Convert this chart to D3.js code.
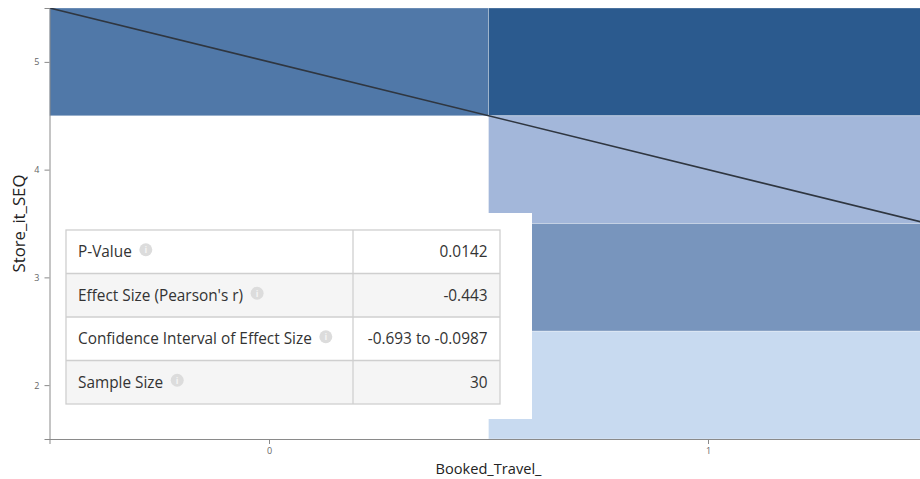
<!DOCTYPE html>
<html>
<head>
<meta charset="utf-8">
<script src="https://cdn.jsdelivr.net/npm/d3@7"></script>
<style>
  html, body { margin: 0; padding: 0; background: #fff; }
  svg { display: block; font-family: "Open Sans", "Noto Sans", sans-serif; }
</style>
</head>
<body>
<svg id="chart" width="920" height="479"></svg>
<script>
// Response counts per (Booked_Travel_, Store_it_SEQ) cell
const xCategories = [0, 1];
const yLevels = [2, 3, 4, 5];
const cellX = [0, 1, 1, 1, 1];
const cellY = [5, 5, 4, 3, 2];
const cellCount = [8, 10, 4, 6, 2];

// Fitted regression line: Store_it_SEQ = intercept + slope * Booked_Travel_
const fitIntercept = 5;
const fitSlope = -1;

// Statistics table
const statLabels = ["P-Value", "Effect Size (Pearson's r)", "Confidence Interval of Effect Size", "Sample Size"];
const statValues = ["0.0142", "-0.443", "-0.693 to -0.0987", "30"];

const svg = d3.select("#chart");
const W = 920, H = 479;
const plot = { left: 49.5, top: 8, bottom: 439, right: 927.5 };

const x = d3.scaleLinear().domain([-0.5, 1.5]).range([plot.left, plot.right]);
const y = d3.scaleLinear().domain([1.5, 5.5]).range([plot.bottom, plot.top]);

const color = d3.scaleLinear()
  .domain([2, 4, 6, 8, 10])
  .range(["#c8daf0", "#a3b7da", "#7895bd", "#5078a8", "#2b5a8e"]);

// Pick a font size so that a text node spans the wanted width
function fitSize(sel, width) {
  sel.attr("font-size", 20);
  const w = sel.node().getComputedTextLength();
  const size = 20 * width / w;
  sel.attr("font-size", size);
  return size;
}

svg.append("defs").append("clipPath").attr("id", "plotClip")
  .append("rect")
  .attr("x", plot.left).attr("y", plot.top)
  .attr("width", W - plot.left).attr("height", plot.bottom - plot.top);

const g = svg.append("g").attr("clip-path", "url(#plotClip)");

// Heatmap cells
const cells = cellX.map((cx, i) => ({ x: cx, y: cellY[i], n: cellCount[i] }));
g.selectAll("rect.cell").data(cells).join("rect")
  .attr("class", "cell")
  .attr("x", d => x(d.x - 0.5))
  .attr("y", d => y(d.y + 0.5))
  .attr("width", d => x(d.x + 0.5) - x(d.x - 0.5))
  .attr("height", d => y(d.y - 0.5) - y(d.y + 0.5))
  .attr("fill", d => color(d.n))
  .attr("stroke", "rgba(255,255,255,0.3)")
  .attr("stroke-width", 1);

// Regression line across the full x domain
const xs = x.domain();
g.append("line")
  .attr("x1", x(xs[0])).attr("y1", y(fitIntercept + fitSlope * xs[0]))
  .attr("x2", x(xs[1])).attr("y2", y(fitIntercept + fitSlope * xs[1]))
  .attr("stroke", "#2f3640")
  .attr("stroke-width", 1.6);

// Statistics panel
const panel = svg.append("g");
panel.append("rect")
  .attr("x", 50).attr("y", 213).attr("width", 482).attr("height", 206)
  .attr("fill", "#fff");

const tbl = { x: 66, y: 230, w: 434, colX: 353, rowH: 43.5 };

// Size the table font from its longest label
const probe = panel.append("text").text(statLabels[2]);
const tableFont = fitSize(probe, 234);
probe.remove();

statLabels.forEach((label, i) => {
  const ry = tbl.y + i * tbl.rowH;
  const cy = ry + tbl.rowH / 2;
  panel.append("rect")
    .attr("x", tbl.x).attr("y", ry).attr("width", tbl.w).attr("height", tbl.rowH)
    .attr("fill", i % 2 === 1 ? "#f5f5f5" : "#fff");
  const t = panel.append("text")
    .attr("x", tbl.x + 12).attr("y", cy + 5.5)
    .attr("font-size", tableFont).attr("fill", "#333")
    .text(label);
  const tw = t.node().getComputedTextLength();
  const ix = tbl.x + 12 + tw + 14;
  const iy = cy - 2;
  panel.append("circle").attr("cx", ix).attr("cy", iy).attr("r", 6.5).attr("fill", "#dcdcdc");
  panel.append("text").attr("x", ix).attr("y", iy + 3.5)
    .attr("text-anchor", "middle").attr("font-size", 9).attr("font-weight", "bold")
    .attr("fill", "#f4f4f4").text("i");
  panel.append("text")
    .attr("x", tbl.x + tbl.w - 12.5).attr("y", cy + 5.5)
    .attr("text-anchor", "end")
    .attr("font-size", tableFont).attr("fill", "#333")
    .text(statValues[i]);
});
// Table grid
const gridColor = "#cfcfcf";
panel.append("rect")
  .attr("x", tbl.x).attr("y", tbl.y).attr("width", tbl.w).attr("height", tbl.rowH * statLabels.length)
  .attr("fill", "none").attr("stroke", gridColor).attr("stroke-width", 1.3);
for (let i = 1; i < statLabels.length; i++) {
  panel.append("line")
    .attr("x1", tbl.x).attr("x2", tbl.x + tbl.w)
    .attr("y1", tbl.y + i * tbl.rowH).attr("y2", tbl.y + i * tbl.rowH)
    .attr("stroke", gridColor).attr("stroke-width", 1.3);
}
panel.append("line")
  .attr("x1", tbl.colX).attr("x2", tbl.colX)
  .attr("y1", tbl.y).attr("y2", tbl.y + tbl.rowH * statLabels.length)
  .attr("stroke", gridColor).attr("stroke-width", 1.3);

// Axes
const yAxis = svg.append("g")
  .attr("transform", `translate(${plot.left},0)`)
  .call(d3.axisLeft(y).tickValues(yLevels).tickFormat(d3.format("d")).tickSize(5).tickSizeOuter(5));
const xAxis = svg.append("g")
  .attr("transform", `translate(0,${plot.bottom})`)
  .call(d3.axisBottom(x).tickValues(xCategories).tickFormat(d3.format("d")).tickSize(5).tickSizeOuter(5));
[yAxis, xAxis].forEach(a => {
  a.selectAll("path, line").attr("stroke", "#8a8a8a");
  a.selectAll("text").attr("fill", "#666").attr("font-size", 9)
    .attr("font-family", "\"Open Sans\", sans-serif");
});
yAxis.selectAll("text").attr("x", -10);
xAxis.selectAll("text").attr("y", 9);

// Axis titles
const yTitle = svg.append("text")
  .attr("transform", `translate(25,${(plot.top + plot.bottom) / 2}) rotate(-90)`)
  .attr("text-anchor", "middle").attr("fill", "#222")
  .text("Store_it_SEQ");
fitSize(yTitle, 98);
const xTitle = svg.append("text")
  .attr("x", (plot.left + plot.right) / 2).attr("y", 474)
  .attr("text-anchor", "middle").attr("fill", "#222")
  .text("Booked_Travel_");
fitSize(xTitle, 106);
</script>
</body>
</html>
